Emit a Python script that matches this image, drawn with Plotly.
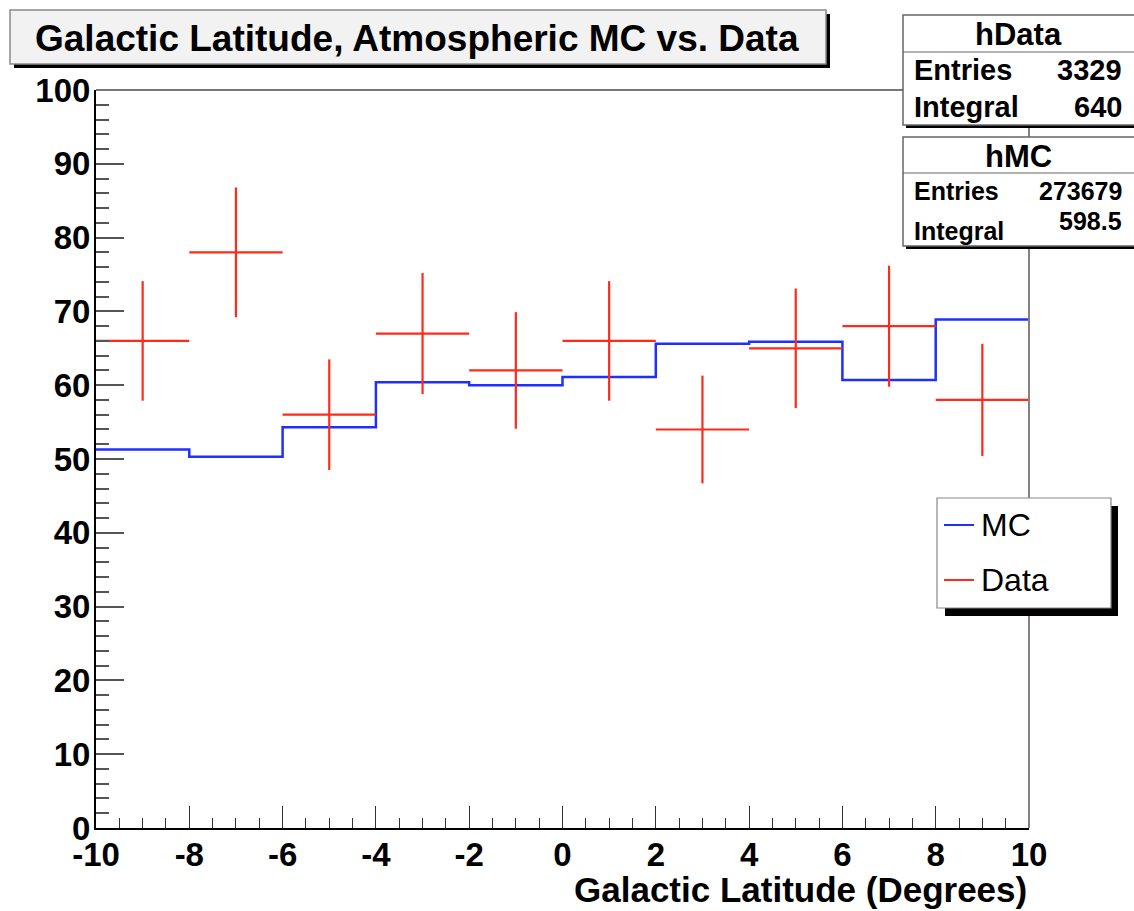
import plotly.graph_objects as go

# ---- data ----
bin_edges = [-10, -8, -6, -4, -2, 0, 2, 4, 6, 8, 10]
mc_values = [51.3, 50.3, 54.3, 60.4, 60.0, 61.1, 65.6, 65.9, 60.7, 68.9]
data_centers = [-9, -7, -5, -3, -1, 1, 3, 5, 7, 9]
data_values = [66, 78, 56, 67, 62, 66, 54, 65, 68, 58]
data_xerr = [1, 1, 1, 1, 1, 1, 1, 1, 1, 1]
data_yerr = [8.1, 8.8, 7.5, 8.2, 7.9, 8.1, 7.3, 8.1, 8.2, 7.6]
x_ticks = [-10, -8, -6, -4, -2, 0, 2, 4, 6, 8, 10]
y_ticks = [0, 10, 20, 30, 40, 50, 60, 70, 80, 90, 100]

title_text = "Galactic Latitude, Atmospheric MC vs. Data"
x_title = "Galactic Latitude (Degrees)"
stats_data = ("hData", [("Entries", "3329"), ("Integral", "640")])
stats_mc = ("hMC", [("Entries", "273679"), ("Integral", "598.5")])
legend_items = [("MC", "#1f2fff"), ("Data", "#ff2a1a")]

W, H = 1134, 911
L, R, T, B = 96, 1029, 90, 828

def px(x):
    return (x - L) / (R - L)

def py(y):
    return (B - y) / (B - T)

FONT = "Liberation Sans"
BLUE = "#1f2fff"
RED = "#ff2a1a"

fig = go.Figure()

fig.add_trace(go.Scatter(
    x=bin_edges, y=mc_values + [mc_values[-1]], mode="lines",
    line=dict(color=BLUE, width=2.5, shape="hv"), name="MC", showlegend=False,
    hoverinfo="skip"))

fig.add_trace(go.Scatter(
    x=data_centers, y=data_values, mode="markers",
    marker=dict(size=1, color=RED),
    error_x=dict(type="data", array=data_xerr, width=0, thickness=2.2, color=RED),
    error_y=dict(type="data", array=data_yerr, width=0, thickness=2.2, color=RED),
    name="Data", showlegend=False, hoverinfo="skip"))

shapes = []
annotations = []

def rect(x0, y0, x1, y1, fill, line_color=None, lw=0, layer="above"):
    shapes.append(dict(type="rect", xref="paper", yref="paper",
                       x0=px(x0), x1=px(x1), y0=py(y1), y1=py(y0),
                       fillcolor=fill, layer=layer,
                       line=dict(color=line_color or fill, width=lw)))

def line(x0, y0, x1, y1, color, w, layer="above"):
    shapes.append(dict(type="line", xref="paper", yref="paper",
                       x0=px(x0), x1=px(x1), y0=py(y0), y1=py(y1), layer=layer,
                       line=dict(color=color, width=w)))

def text(x, y, s, size, xanchor="left", bold=True, color="black"):
    annotations.append(dict(xref="paper", yref="paper", x=px(x), y=py(y),
                            text=f"<b>{s}</b>" if bold else s, showarrow=False,
                            xanchor=xanchor, yanchor="middle",
                            font=dict(family=FONT, size=size, color=color)))

# frame top/right (grey)
line(L, T, 905, T, "#777777", 2)
line(R, T, R, B, "#8a7f7f", 2)

# title box with shadow
rect(14, 14, 830, 68, "black")
rect(10, 10, 826, 64, "#f2f2f2", "#8a8a8a", 1.5)
text(417, 38, title_text, 37, "center")

# stat boxes
def stat_box(top, bottom, sep, name, rows, size_h, size_r, row_ys, val_ys):
    rect(906, top + 3, 1140, bottom + 3, "black")
    rect(903, top, 1140, bottom, "white", "#666666", 1.5)
    line(903, sep, 1140, sep, "#666666", 1.2)
    text(1018, (top + sep) / 2 + 1, name, size_h, "center")
    for (lab, val), ry, vy in zip(rows, row_ys, val_ys):
        text(912, ry, lab, size_r, "left")
        text(1124, vy, val, size_r, "right")

stat_box(15, 125, 52, stats_data[0], stats_data[1], 31, 29, [70, 107], [70, 107])
line(R, 128, R, 137, "#8a7f7f", 2)
stat_box(137, 246, 173, stats_mc[0], stats_mc[1], 31, 25, [191, 231], [191, 221])

# legend with shadow
rect(945, 506, 1118, 616, "black")
rect(937, 498, 1111, 608, "white", "#888888", 1.2)
for (lab, col), yy in zip(legend_items, [525, 580]):
    line(944, yy, 974, yy, col, 2)
    text(979, yy, lab, 32, "left", bold=False)

# x axis title
annotations.append(dict(xref="paper", yref="paper", x=1.0, y=py(889),
                        text=f"<b>{x_title}</b>", showarrow=False,
                        xanchor="right", yanchor="middle",
                        font=dict(family=FONT, size=35, color="black")))

fig.update_layout(
    width=W, height=H,
    margin=dict(l=L, r=W - R, t=T, b=H - B),
    paper_bgcolor="white", plot_bgcolor="white",
    showlegend=False,
    shapes=shapes, annotations=annotations,
    xaxis=dict(range=[-10, 10], tickmode="array", tickvals=x_ticks,
               ticktext=[str(v) for v in x_ticks],
               ticks="inside", ticklen=22, tickwidth=1.2, tickcolor="#333333",
               minor=dict(dtick=0.5, tick0=-10, ticks="inside", ticklen=10,
                          tickwidth=1.2, tickcolor="#333333", showgrid=False),
               showline=True, linecolor="black", linewidth=2,
               showgrid=False, zeroline=False, ticklabelstandoff=-4,
               tickfont=dict(family=FONT, size=33, color="black", weight="bold")),
    yaxis=dict(range=[0, 100], tickmode="array", tickvals=y_ticks,
               ticktext=[str(v) for v in y_ticks],
               ticks="inside", ticklen=28, tickwidth=1.5, tickcolor="#555555",
               minor=dict(dtick=2, tick0=0, ticks="inside", ticklen=13,
                          tickwidth=1.5, tickcolor="#555555", showgrid=False),
               showline=True, linecolor="black", linewidth=2,
               showgrid=False, zeroline=False, ticklabelstandoff=-3,
               tickfont=dict(family=FONT, size=33, color="black", weight="bold")),
)

fig.write_html("out.html")
